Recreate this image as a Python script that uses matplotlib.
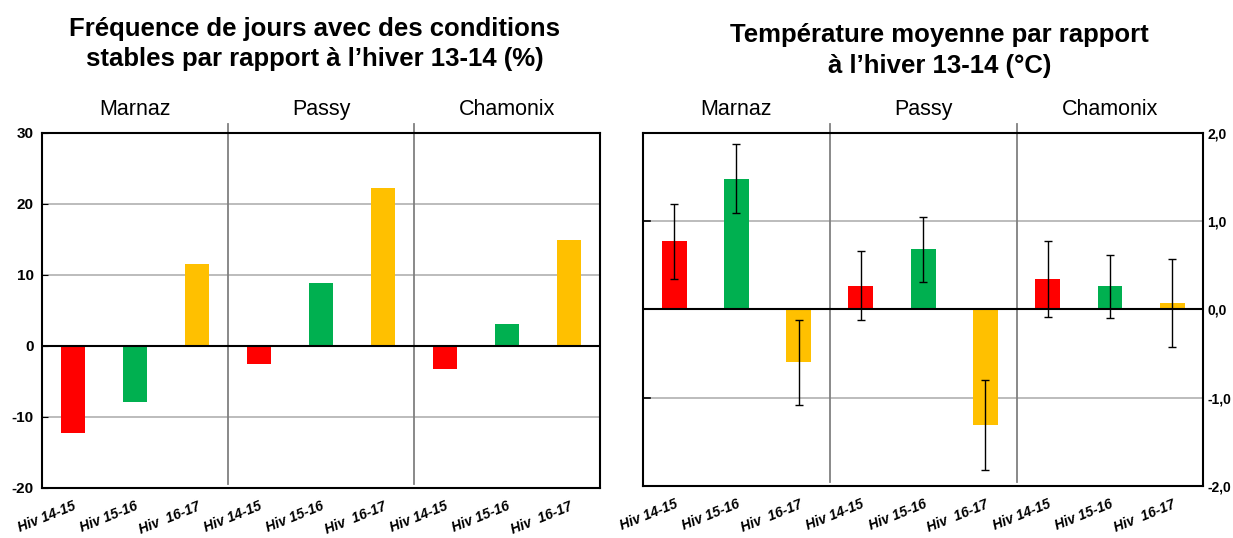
import numpy as np
import matplotlib
matplotlib.use("Agg")
import matplotlib.pyplot as plt
import matplotlib.transforms as mtransforms

plt.rcParams['font.family'] = ['Liberation Sans Narrow', 'Liberation Sans', 'DejaVu Sans']

sites = ["Marnaz", "Passy", "Chamonix"]
winters = ["Hiv 14-15", "Hiv 15-16", "Hiv  16-17"]
colors = ["#FF0000", "#00B050", "#FFC000"]

# frequence de jours stables (%) par rapport a 13-14
freq = [-12.3, -7.9, 11.5,
        -2.5, 8.8, 22.2,
        -3.2, 3.1, 14.9]

# temperature moyenne (degC) par rapport a 13-14
temp = [0.77, 1.48, -0.60,
        0.27, 0.68, -1.31,
        0.34, 0.26, 0.075]
temp_err = [0.42, 0.39, 0.48,
            0.39, 0.37, 0.51,
            0.43, 0.36, 0.495]

fig = plt.figure(figsize=(12.33, 5.38), dpi=100)
ax1 = fig.add_axes([0.034, 0.093, 0.4526, 0.660])
ax2 = fig.add_axes([0.5215, 0.0967, 0.4545, 0.6563])

x = np.arange(9)
bar_colors = colors * 3
labels = winters * 3


def style(ax, ylim, ticks):
    ax.set_xlim(-0.5, 8.5)
    ax.set_ylim(*ylim)
    ax.set_yticks(ticks)
    for t in ticks:
        ax.axhline(t, color="#b0b0b0", lw=1.2, zorder=0)
    ax.axhline(0, color="black", lw=1.5, zorder=3)
    for sp in ax.spines.values():
        sp.set_linewidth(1.5)
    # separateurs entre sites
    for sx in [2.5, 5.5]:
        ax.plot([sx, sx], [0.01, 1.025], color="#808080", lw=1.3,
                transform=ax.get_xaxis_transform(), clip_on=False, zorder=1)
    for i, s in enumerate(sites):
        ax.text(1 + 3 * i, 1.065, s, transform=ax.get_xaxis_transform(),
                ha="center", va="center", fontsize=15.5, family=['Liberation Sans', 'DejaVu Sans'])
    ax.set_xticks(x)
    ax.set_xticklabels(labels, rotation=22, ha="right", rotation_mode="anchor",
                       fontsize=10, fontweight="bold", fontstyle="italic",
                       family=['Liberation Sans', 'DejaVu Sans'])
    off = mtransforms.ScaledTranslation(14 / 100, 0, fig.dpi_scale_trans)
    for lab in ax.get_xticklabels():
        lab.set_transform(lab.get_transform() + off)
    ax.tick_params(axis="x", length=0, pad=8)


ax1.bar(x, freq, width=0.39, color=bar_colors, zorder=2)
style(ax1, (-20, 30), [-20, -10, 0, 10, 20, 30])
ax1.set_yticklabels(["-20", "-10", "0", "10", "20", "30"], fontsize=11, fontweight="bold")
ax1.tick_params(axis="y", direction="in", length=4, pad=6)

ax2.bar(x, temp, width=0.4, color=bar_colors, zorder=2)
ax2.errorbar(x, temp, yerr=temp_err, fmt="none", ecolor="black", elinewidth=1,
             capsize=3, capthick=1, zorder=4)
style(ax2, (-2, 2), [-2, -1, 0, 1, 2])
ax2.yaxis.tick_right()
ax2.set_yticklabels(["-2,0", "-1,0", "0,0", "1,0", "2,0"], fontsize=10, fontweight="bold")
ax2.tick_params(axis="y", direction="in", length=0, pad=3)
for t in [-1, 1]:
    ax2.plot([0, 0.012], [t, t], color="black", lw=1.2,
             transform=ax2.get_yaxis_transform(), clip_on=False, zorder=5)

fig.text(0.255, 0.918, "Fréquence de jours avec des conditions\nstables par rapport à l’hiver 13-14 (%)",
         ha="center", va="center", fontsize=18.5, fontweight="bold", linespacing=1.3)
fig.text(0.762, 0.906, "Température moyenne par rapport\nà l’hiver 13-14 (°C)",
         ha="center", va="center", fontsize=18.5, fontweight="bold", linespacing=1.35)

fig.savefig("out.png", dpi=100)
